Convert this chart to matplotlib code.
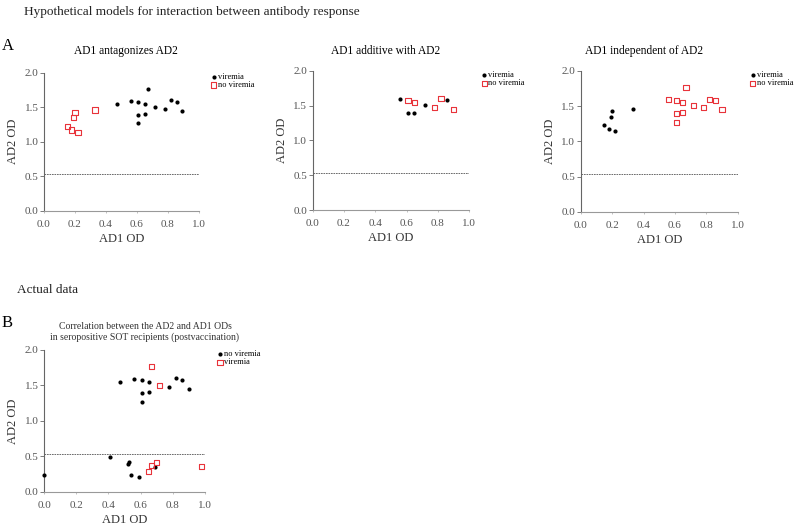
"""Antibody response models: AD1 vs AD2 OD scatter panels."""
import matplotlib
matplotlib.use("Agg")
import matplotlib.pyplot as plt

plt.rcParams["font.family"] = ["Liberation Serif", "DejaVu Serif"]

# panel A1: AD1 antagonizes AD2
a1_vir_x = [0.47, 0.56, 0.61, 0.61, 0.61, 0.65, 0.65, 0.67, 0.72, 0.78, 0.82, 0.86, 0.89]
a1_vir_y = [1.55, 1.59, 1.57, 1.39, 1.27, 1.55, 1.40, 1.77, 1.50, 1.48, 1.60, 1.58, 1.45]
a1_nov_x = [0.15, 0.18, 0.19, 0.20, 0.22, 0.33]
a1_nov_y = [1.22, 1.17, 1.35, 1.42, 1.13, 1.46]

# panel A2: AD1 additive with AD2
a2_vir_x = [0.56, 0.61, 0.65, 0.72, 0.86]
a2_vir_y = [1.60, 1.40, 1.40, 1.51, 1.58]
a2_nov_x = [0.61, 0.65, 0.78, 0.82, 0.90]
a2_nov_y = [1.57, 1.55, 1.48, 1.60, 1.45]

# panel A3: AD1 independent of AD2
a3_vir_x = [0.15, 0.18, 0.19, 0.20, 0.22, 0.33]
a3_vir_y = [1.23, 1.18, 1.35, 1.43, 1.14, 1.46]
a3_nov_x = [0.56, 0.61, 0.61, 0.61, 0.65, 0.65, 0.67, 0.72, 0.78, 0.82, 0.86, 0.90]
a3_nov_y = [1.60, 1.58, 1.40, 1.27, 1.55, 1.41, 1.77, 1.51, 1.48, 1.60, 1.58, 1.45]

# panel B: actual data
b_nov_x = [0.47, 0.56, 0.61, 0.61, 0.61, 0.65, 0.65, 0.78, 0.82, 0.86, 0.90,
           0.00, 0.41, 0.52, 0.53, 0.54, 0.59, 0.69]
b_nov_y = [1.55, 1.59, 1.57, 1.39, 1.27, 1.55, 1.40, 1.48, 1.60, 1.58, 1.45,
           0.24, 0.49, 0.39, 0.42, 0.24, 0.21, 0.35]
b_vir_x = [0.67, 0.72, 0.65, 0.67, 0.70, 0.98]
b_vir_y = [1.77, 1.50, 0.29, 0.37, 0.41, 0.36]

cutoff = 0.53
xticks = [0.0, 0.2, 0.4, 0.6, 0.8, 1.0]
yticks = [0.0, 0.5, 1.0, 1.5, 2.0]
RED = "#e8333a"
GREY = "#666666"

fig = plt.figure(figsize=(7.94, 5.27), dpi=100)


def dots(ax, x, y, label):
    ax.scatter(x, y, s=9, c="black", marker="o", linewidths=0,
               label=label, clip_on=False, zorder=3)


def squares(ax, x, y, label):
    ax.scatter(x, y, s=14, facecolors="none", edgecolors=RED, marker="s",
               linewidths=0.8, label=label, clip_on=False, zorder=3)


def style(ax):
    ax.set_xlim(0, 1)
    ax.set_ylim(0, 2)
    ax.set_xticks(xticks)
    ax.set_yticks(yticks)
    ax.set_xticklabels([f"{t:.1f}" for t in xticks])
    ax.set_yticklabels([f"{t:.1f}" for t in yticks])
    for s in ["top", "right"]:
        ax.spines[s].set_visible(False)
    ax.spines["left"].set_color(GREY)
    ax.spines["bottom"].set_color("#999999")
    for s in ["left", "bottom"]:
        ax.spines[s].set_linewidth(0.8)
    ax.tick_params(axis="y", length=3, width=0.6, color=GREY, labelsize=8,
                   labelcolor="#555555", pad=1)
    ax.tick_params(axis="x", length=1.5, width=0.5, color="#aaaaaa", labelsize=8,
                   labelcolor="#555555", pad=5)
    ax.axhline(cutoff, color="#555555", lw=0.6, ls=(0, (2, 1)), zorder=1)
    ax.set_xlabel("AD1 OD", fontsize=9, labelpad=3, color="#333333")
    ax.set_ylabel("AD2 OD", fontsize=9, labelpad=4, color="#333333")
    ax.legend(loc="upper left", bbox_to_anchor=(1.07, 1.0), frameon=False,
              fontsize=6, handletextpad=0.0, borderpad=0, labelspacing=0.05,
              handlelength=1.0, borderaxespad=0)


ax1 = fig.add_axes([0.0554, 0.600, 0.195, 0.262])
dots(ax1, a1_vir_x, a1_vir_y, "viremia")
squares(ax1, a1_nov_x, a1_nov_y, "no viremia")
style(ax1)

ax2 = fig.add_axes([0.3938, 0.6015, 0.197, 0.2638])
dots(ax2, a2_vir_x, a2_vir_y, "viremia")
squares(ax2, a2_nov_x, a2_nov_y, "no viremia")
style(ax2)

ax3 = fig.add_axes([0.7314, 0.5983, 0.1977, 0.267])
dots(ax3, a3_vir_x, a3_vir_y, "viremia")
squares(ax3, a3_nov_x, a3_nov_y, "no viremia")
style(ax3)

axb = fig.add_axes([0.0558, 0.067, 0.202, 0.2689])
dots(axb, b_nov_x, b_nov_y, "no viremia")
squares(axb, b_vir_x, b_vir_y, "viremia")
style(axb)

# figure texts
fig.text(24 / 794, 1 - 12 / 527, "Hypothetical models for interaction between antibody response",
         fontsize=9.5, va="center", ha="left", color="#222222")
fig.text(2 / 794, 1 - 46 / 527, "A", fontsize=12, va="center", ha="left")
fig.text(126 / 794, 1 - 51 / 527, "AD1 antagonizes AD2", fontsize=8.3, ha="center", va="center")
fig.text(386 / 794, 1 - 51 / 527, "AD1 additive with AD2", fontsize=8.3, ha="center", va="center")
fig.text(644 / 794, 1 - 51 / 527, "AD1 independent of AD2", fontsize=8.3, ha="center", va="center")
fig.text(17 / 794, 1 - 290 / 527, "Actual data", fontsize=9.5, va="center", ha="left", color="#222222")
fig.text(2 / 794, 1 - 323 / 527, "B", fontsize=12, va="center", ha="left")
fig.text(145 / 794, 1 - 332 / 527,
         "Correlation between the AD2 and AD1 ODs\nin seropositive SOT recipients (postvaccination)",
         fontsize=7, ha="center", va="center", linespacing=1.2, color="#333333")

fig.savefig("out.png", dpi=100)
